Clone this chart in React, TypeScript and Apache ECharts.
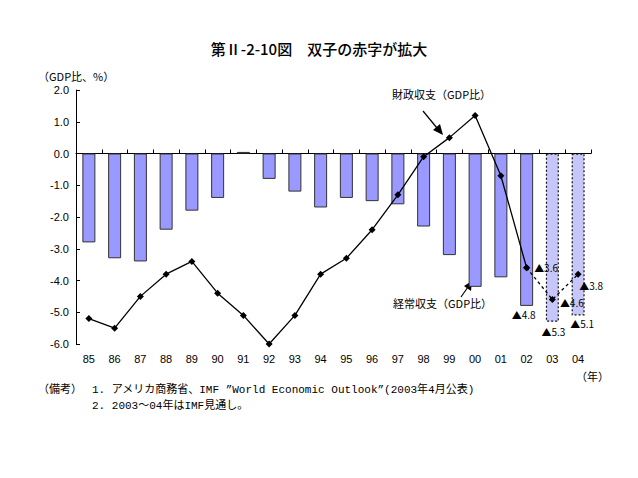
import React, { useEffect, useRef } from "react";
import * as echarts from "echarts";

const years = ["85","86","87","88","89","90","91","92","93","94","95","96","97","98","99","00","01","02","03","04"];
// 経常収支 (GDP比, %) — bars
const currentAccount = [-2.8,-3.3,-3.4,-2.4,-1.8,-1.4,0.05,-0.8,-1.2,-1.7,-1.4,-1.5,-1.6,-2.3,-3.2,-4.2,-3.9,-4.8,-5.3,-5.1];
// 財政収支 (GDP比, %) — line
const fiscal = [-5.2,-5.5,-4.5,-3.8,-3.4,-4.4,-5.1,-6.0,-5.1,-3.8,-3.3,-2.4,-1.3,-0.1,0.5,1.2,-0.7,-3.6,-4.6,-3.8];
const forecastFrom = 18; // 2003〜04 are IMF forecasts
const yTicks = { min: -6, max: 2, interval: 1 };

const FONT = "'Liberation Sans', Arial, 'Noto Sans CJK JP', sans-serif";
const JFONT = "'Noto Sans CJK JP', sans-serif";
const MFONT = "'Liberation Mono', 'Noto Sans CJK JP', monospace";
const LFONT = "'Noto Sans CJK JP', 'Liberation Sans', sans-serif";

export default function App() {
  const ref = useRef<HTMLDivElement>(null);
  useEffect(() => {
    if (!ref.current) return;
    const chart = echarts.init(ref.current, null, { renderer: "svg" });

    const tri = (v: number) => "▲" + Math.abs(v).toFixed(1);

    const barData = currentAccount.map((v, i) => {
      const item: any = { value: v };
      if (i >= forecastFrom) {
        item.itemStyle = {
          color: "#c6c6fa",
          borderColor: "#111",
          borderWidth: 1.2,
          borderType: [2, 2],
        };
      }
      if (i === forecastFrom - 1) item.label = { show: true, position: "bottom", distance: 4, offset: [-3, 0], formatter: tri(v) };
      if (i === forecastFrom) item.label = { show: true, position: "bottom", distance: 5, offset: [1, 0], formatter: tri(v) };
      if (i === forecastFrom + 1) item.label = { show: true, position: "bottom", distance: 3, offset: [4, 0], formatter: tri(v) };
      return item;
    });

    const solidLine = fiscal.map((v, i) => (i < forecastFrom ? v : null));
    const dashLine = fiscal.map((v, i) => {
      if (i < forecastFrom - 1) return null;
      const item: any = { value: v };
      if (i === forecastFrom - 1) item.label = { show: true, position: "right", distance: 4, formatter: tri(v) };
      if (i === forecastFrom) item.label = { show: true, position: "right", distance: 4, offset: [0, 3], formatter: tri(v) };
      if (i === forecastFrom + 1) item.label = { show: true, position: "bottom", distance: 4, offset: [13, -1], formatter: tri(v) };
      return item;
    });

    const labelStyle = { color: "#000", fontSize: 10, fontFamily: LFONT };

    chart.setOption({
      animation: false,
      backgroundColor: "#fff",
      title: {
        text: "第Ⅱ-2-10図　双子の赤字が拡大",
        left: "center",
        top: 36,
        textStyle: { fontSize: 15, fontWeight: 500, color: "#000", fontFamily: JFONT },
      },
      grid: { left: 76, top: 90, width: 515, height: 254 },
      xAxis: [
        {
          type: "category",
          data: years,
          position: "bottom",
          axisLine: { show: false, onZero: false },
          axisTick: { show: false },
          axisLabel: { color: "#000", fontSize: 11, fontFamily: FONT, margin: 9 },
        },
        {
          type: "category",
          data: years,
          position: "top",
          axisLine: { show: true, onZero: true, lineStyle: { color: "#000", width: 1 } },
          axisTick: { show: true, inside: false, length: 4, lineStyle: { color: "#000" } },
          axisLabel: { show: false },
        },
      ],
      yAxis: {
        type: "value",
        min: yTicks.min,
        max: yTicks.max,
        interval: yTicks.interval,
        axisLine: { show: true, lineStyle: { color: "#000", width: 1 } },
        axisTick: { show: true, inside: true, length: 4, lineStyle: { color: "#000" } },
        splitLine: { show: false },
        axisLabel: {
          color: "#000",
          fontSize: 11,
          fontFamily: FONT,
          margin: 7,
          formatter: (v: number) => v.toFixed(1),
        },
      },
      series: [
        {
          type: "bar",
          xAxisIndex: 0,
          barWidth: 13,
          data: barData,
          itemStyle: { color: "#9999ff", borderColor: "#333", borderWidth: 1 },
          label: labelStyle,
          z: 2,
        },
        {
          type: "line",
          xAxisIndex: 0,
          data: solidLine,
          symbol: "diamond",
          symbolSize: 7,
          itemStyle: { color: "#000" },
          lineStyle: { color: "#000", width: 1.3 },
          z: 4,
        },
        {
          type: "line",
          xAxisIndex: 0,
          data: dashLine,
          symbol: "diamond",
          symbolSize: 7,
          itemStyle: { color: "#000" },
          lineStyle: { color: "#000", width: 1.3, type: [3, 3] },
          label: labelStyle,
          z: 4,
        },
      ],
      graphic: [
        { type: "text", left: 38, top: 70, style: { text: "（GDP比、%）", fontSize: 11, fontFamily: JFONT, fill: "#000" } },
        { type: "text", left: 576, top: 370, style: { text: "（年）", fontSize: 11, fontFamily: JFONT, fill: "#000" } },
        { type: "text", left: 392, top: 88, style: { text: "財政収支（GDP比）", fontSize: 11, fontFamily: JFONT, fill: "#000" } },
        { type: "line", shape: { x1: 423, y1: 111, x2: 437, y2: 128 }, style: { stroke: "#000", lineWidth: 1.2 } },
        { type: "polygon", shape: { points: [[443, 135], [433, 130], [440, 124]] }, style: { fill: "#000" } },
        { type: "text", left: 393, top: 297, style: { text: "経常収支（GDP比）", fontSize: 11, fontFamily: JFONT, fill: "#000" } },
        { type: "line", shape: { x1: 461, y1: 297, x2: 468, y2: 287 }, style: { stroke: "#000", lineWidth: 1.2 } },
        { type: "polygon", shape: { points: [[472, 281], [471, 291], [464, 286]] }, style: { fill: "#000" } },
        { type: "text", left: 38, top: 384, style: { text: "（備考）", fontSize: 11, fontFamily: MFONT, fill: "#000" } },
        { type: "text", left: 92, top: 384, style: { text: "1. アメリカ商務省、IMF \u201DWorld Economic Outlook\u201D(2003年4月公表)", fontSize: 11, fontFamily: MFONT, fill: "#000" } },
        { type: "text", left: 92, top: 400, style: { text: "2. 2003～04年はIMF見通し。", fontSize: 11, fontFamily: MFONT, fill: "#000" } },
      ],
    });
    return () => chart.dispose();
  }, []);
  return <div ref={ref} style={{ width: 638, height: 478, margin: -8 }} />;
}
